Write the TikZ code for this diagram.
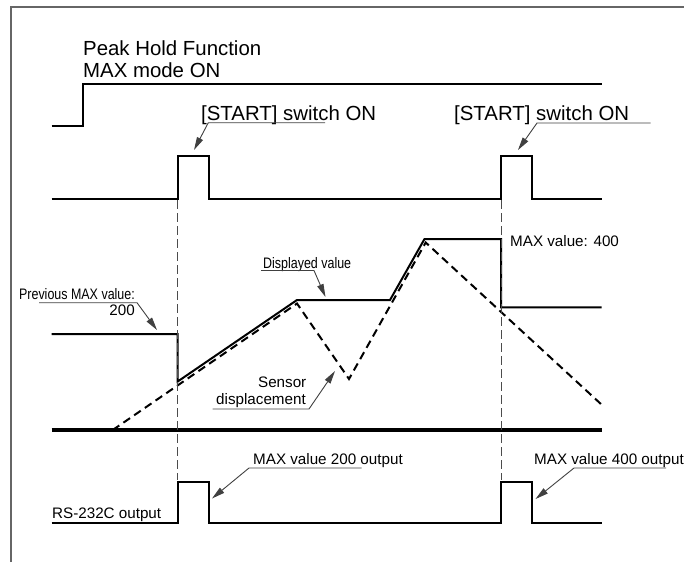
\documentclass[tikz,border=0pt]{standalone}
\usepackage{fontspec}
\setmainfont{Liberation Sans}
\usepackage{graphicx}
\usetikzlibrary{arrows.meta}
\begin{document}
\begin{tikzpicture}[x=1pt,y=-1pt,
  sig/.style={line width=2pt, line join=miter},
  basel/.style={line width=3.4pt},
  guide/.style={line width=0.9pt, draw=black!70, dash pattern=on 9pt off 4pt},
  sensor/.style={line width=2pt, dash pattern=on 8pt off 5pt},
  leader/.style={line width=0.9pt, draw=black!75},
  ptr/.style={leader, -{Triangle[length=13pt,width=6.5pt]}},
  big/.style={inner sep=0pt, font=\fontsize{20.4}{24}\selectfont},
  small/.style={inner sep=0pt, font=\fontsize{15.2}{18}\selectfont},
  frameline/.style={line width=1.2pt, draw=black!60}]
\useasboundingbox (0,0) rectangle (684,562);
\draw[frameline] (11,562) -- (11,7) -- (684,7);

% texts
\node[big, anchor=base west] (title1) at (83,55) {Peak Hold Function};
\node[big, anchor=base west] (title2) at (83,77.5) {MAX mode ON};
\node[big, anchor=base west] (start1) at (201,120.5) {[START] switch ON};
\node[big, anchor=base west] (start2) at (454,120.5) {[START] switch ON};
\node[small, anchor=base west] (max400) at (510,246) {MAX value: 400};
\node[small, anchor=base west] (disp) at (263,268.3) {\scalebox{0.82}[1]{Displayed value}};
\node[small, anchor=base east] (prev) at (135,299.3) {\scalebox{0.82}[1]{Previous MAX value:}};
\node[small, anchor=base east] (prev200) at (135,315.7) {200};
\node[small, anchor=base east] (sens1) at (306.5,387) {Sensor};
\node[small, anchor=base east] (sens2) at (306,404.5) {displacement};
\node[small, anchor=base west] (out200) at (253,464.5) {MAX value 200 output};
\node[small, anchor=base west] (out400) at (534,464.5) {MAX value 400 output};
\node[small, anchor=base west] (rs) at (52,518.3) {RS-232C output};

% signals
\draw[sig] (51.5,125.7) -- (83,125.7) -- (83,84) -- (601.7,84);
\draw[sig] (51.5,199) -- (177.7,199) -- (177.7,155.5) -- (208.7,155.5) -- (208.7,199) -- (501,199) -- (501,155.5) -- (532,155.5) -- (532,199) -- (601.7,199);
\draw[sig] (51.5,334) -- (177.7,334) -- (177.7,381.5) -- (297,300) -- (390,300) -- (424.5,239) -- (501,239) -- (501,307.3) -- (601.7,307.3);
\draw[sensor] (112.7,430) -- (297,303.5) -- (349,379) -- (425.7,242.5) -- (602,405);
\draw[basel] (51.5,430) -- (601.7,430);
\draw[sig] (51.5,523) -- (177.7,523) -- (177.7,481.7) -- (208.7,481.7) -- (208.7,523) -- (501,523) -- (501,481.7) -- (532,481.7) -- (532,523) -- (601.7,523);

% guide lines
\coordinate (g1a) at (177.7,200); \coordinate (g1b) at (177.7,480);
\coordinate (g2a) at (501,200);   \coordinate (g2b) at (501,480);
\draw[guide] (g1a) -- (g1b);
\draw[guide] (g2a) -- (g2b);

% leaders
\coordinate (l1a) at (325,122.7); \coordinate (l1b) at (208.3,122.7); \coordinate (l1c) at (194,150);
\draw[ptr] (l1a) -- (l1b) -- (l1c);
\coordinate (l2a) at (650.7,123); \coordinate (l2b) at (537,123); \coordinate (l2c) at (518,150);
\draw[ptr] (l2a) -- (l2b) -- (l2c);
\coordinate (l3a) at (39,302.7); \coordinate (l3b) at (137,302.7); \coordinate (l3c) at (157,330);
\draw[ptr] (l3a) -- (l3b) -- (l3c);
\coordinate (l4a) at (261,270.5); \coordinate (l4b) at (314,270.5); \coordinate (l4c) at (325.5,297);
\draw[ptr] (l4a) -- (l4b) -- (l4c);
\coordinate (l5a) at (212.7,409); \coordinate (l5b) at (309,409); \coordinate (l5c) at (335,371);
\draw[ptr] (l5a) -- (l5b) -- (l5c);
\coordinate (l6a) at (361.6,468); \coordinate (l6b) at (249,468); \coordinate (l6c) at (212,498.5);
\draw[ptr] (l6a) -- (l6b) -- (l6c);
\coordinate (l7a) at (666,468); \coordinate (l7b) at (574,468); \coordinate (l7c) at (535.5,499);
\draw[ptr] (l7a) -- (l7b) -- (l7c);
\end{tikzpicture}
\end{document}
